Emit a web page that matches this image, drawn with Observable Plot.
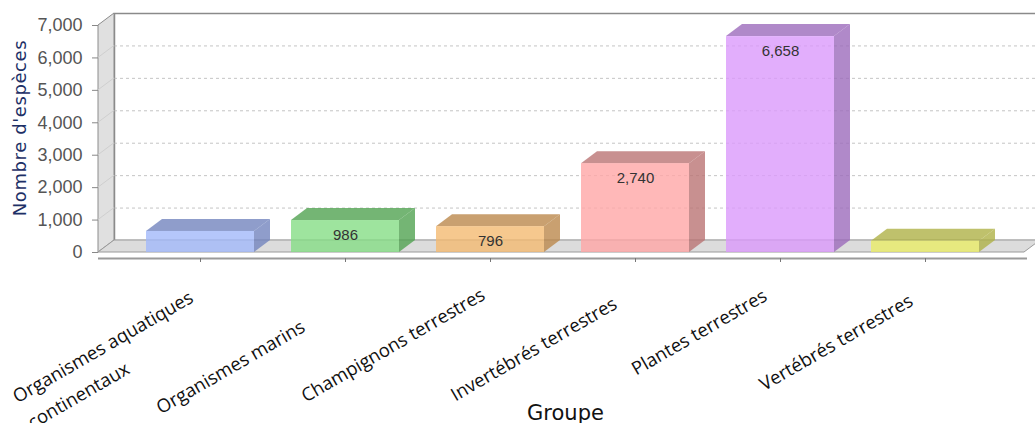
<!DOCTYPE html>
<html>
<head>
<meta charset="utf-8">
<script src="https://cdn.jsdelivr.net/npm/d3@7"></script>
<script src="https://cdn.jsdelivr.net/npm/@observablehq/plot@0.6"></script>
<style>
  html, body { margin: 0; padding: 0; background: #ffffff; }
</style>
</head>
<body>
<div id="chart"></div>
<script>
// ---- data ----
const groups = [
  "Organismes aquatiques continentaux",
  "Organismes marins",
  "Champignons terrestres",
  "Invertébrés terrestres",
  "Plantes terrestres",
  "Vertébrés terrestres"
];
const groupLabels = [
  "Organismes aquatiques\ncontinentaux",
  "Organismes marins",
  "Champignons terrestres",
  "Invertébrés terrestres",
  "Plantes terrestres",
  "Vertébrés terrestres"
];
const counts = [650, 986, 796, 2740, 6658, 350];
const frontColors = ["#a3b9fa", "#86dd86", "#f4ba72", "#ffa6a6", "#db9afb", "#eaec68"];
const darkColors  = ["#7384be", "#51a351", "#bb884c", "#ba7474", "#9c6bbb", "#afb147"];
const yTicks = [0, 1000, 2000, 3000, 4000, 5000, 6000, 7000];
const yLabel = "Nombre d'espèces";
const xLabel = "Groupe";

const data = groups.map((g, i) => ({group: g, label: groupLabels[i], value: counts[i], dark: darkColors[i]}));

// ---- layout (3D depth offset and label nudges) ----
const DX = 16, DY = 12;
const nudges = [
  {dx: -168, dy: 177, anchor: "start"},
  {dx: -39, dy: 78, anchor: "end"},
  {dx: -4, dy: 46, anchor: "end"},
  {dx: -17, dy: 55, anchor: "end"},
  {dx: -12, dy: 47, anchor: "end"},
  {dx: -11, dy: 52, anchor: "end"}
];
const fmt = d3.format(",");

function bw(sx) {
  return typeof sx.bandwidth === "function" ? sx.bandwidth() : sx.bandwidth;
}

// side wall, floor
function walls(index, scales, values, dims) {
  const {width, marginLeft, marginRight} = dims;
  const x0 = marginLeft, x1 = width - marginRight;
  const yb = scales.y(0), yt = scales.y(yTicks[yTicks.length - 1]);
  const g = d3.create("svg:g");
  g.append("path")
    .attr("d", `M${x0},${yt}L${x0 + DX},${yt - DY}L${x0 + DX},${yb - DY}L${x0},${yb}Z`)
    .attr("fill", "#e0e0e0").attr("stroke", "#8c8c8c");
  for (const t of yTicks.slice(1, -1)) {
    g.append("line")
      .attr("x1", x0).attr("y1", scales.y(t))
      .attr("x2", x0 + DX).attr("y2", scales.y(t) - DY)
      .attr("stroke", "#cfcfcf");
  }
  g.append("path")
    .attr("d", `M${x0},${yb}L${x0 + DX},${yb - DY}L${x1 + DX},${yb - DY}L${x1},${yb}Z`)
    .attr("fill", "#dcdcdc").attr("stroke", "#9a9a9a");
  return g.node();
}

// top and side faces of each bar
function barFaces(index, scales) {
  const sx = scales.x, sy = scales.y, w = bw(sx);
  const g = d3.create("svg:g");
  for (const d of data) {
    const x = sx(d.group), y = sy(d.value), y0 = sy(0);
    g.append("path")
      .attr("d", `M${x},${y}L${x + DX},${y - DY}L${x + w + DX},${y - DY}L${x + w},${y}Z`)
      .attr("fill", d.dark).attr("fill-opacity", 0.8);
    g.append("path")
      .attr("d", `M${x + w},${y}L${x + w + DX},${y - DY}L${x + w + DX},${y0 - DY}L${x + w},${y0}Z`)
      .attr("fill", d.dark).attr("fill-opacity", 0.8);
  }
  return g.node();
}

const labelMarks = data.map((d, i) => Plot.text([d], {
  x: "group",
  frameAnchor: "bottom",
  text: "label",
  rotate: -30,
  textAnchor: nudges[i].anchor,
  lineAnchor: "bottom",
  lineHeight: 1.62,
  dx: nudges[i].dx,
  dy: nudges[i].dy,
  fontSize: 18.5,
  fontFamily: "Open Sans",
  fill: "#111"
}));

const chart = Plot.plot({
  width: 1035,
  height: 423,
  marginLeft: 98,
  marginRight: 11,
  marginTop: 25,
  marginBottom: 171,
  style: {background: "#ffffff", fontFamily: "DejaVu Sans"},
  x: {domain: groups, paddingInner: 0.257, paddingOuter: 0.1285, insetLeft: 28, insetRight: 25, label: null},
  y: {domain: [0, 7000], label: null},
  color: {domain: groups, range: frontColors},
  marks: [
    Plot.frame({dx: DX, dy: -DY, fill: "#ffffff", stroke: "#8a8a8a", strokeWidth: 1.5}),
    Plot.ruleY(yTicks.slice(1, -1), {dx: DX, dy: -DY, stroke: "#c4c4c4", strokeDasharray: "3,3"}),
    walls,
    barFaces,
    Plot.barY(data, {x: "group", y: "value", fill: "group", fillOpacity: 0.8}),
    Plot.ruleY([0], {dy: 6, stroke: "#9a9a9a", strokeWidth: 2, insetRight: -3}),
    Plot.axisX({tickSize: 4, tickFormat: () => "", dy: 6, stroke: "#777", label: null}),
    Plot.axisY({ticks: yTicks, tickFormat: fmt, tickSize: 6, tickPadding: 10, fontSize: 18,
                fontFamily: "Liberation Sans", fill: "#555", stroke: "#888", label: null}),
    Plot.text(data.filter(d => d.value >= 700), {
      x: "group", y: "value", text: d => fmt(d.value), dy: 15,
      fontSize: 15, fontFamily: "Liberation Sans", fill: "#333"
    }),
    ...labelMarks,
    Plot.text([yLabel], {frameAnchor: "left", rotate: -90, textAnchor: "middle", dx: -78, dy: -11,
      fontSize: 18, fontFamily: "DejaVu Sans", fill: "#1d2f66"}),
    Plot.text([xLabel], {frameAnchor: "bottom", textAnchor: "middle", dx: 4, dy: 167, lineAnchor: "bottom",
      fontSize: 21, fontFamily: "DejaVu Sans", fill: "#111"})
  ]
});

document.getElementById("chart").append(chart);
d3.select(chart).selectAll("text")
  .filter(function () { return this.textContent === yLabel; })
  .attr("letter-spacing", 0.6);
</script>
</body>
</html>
